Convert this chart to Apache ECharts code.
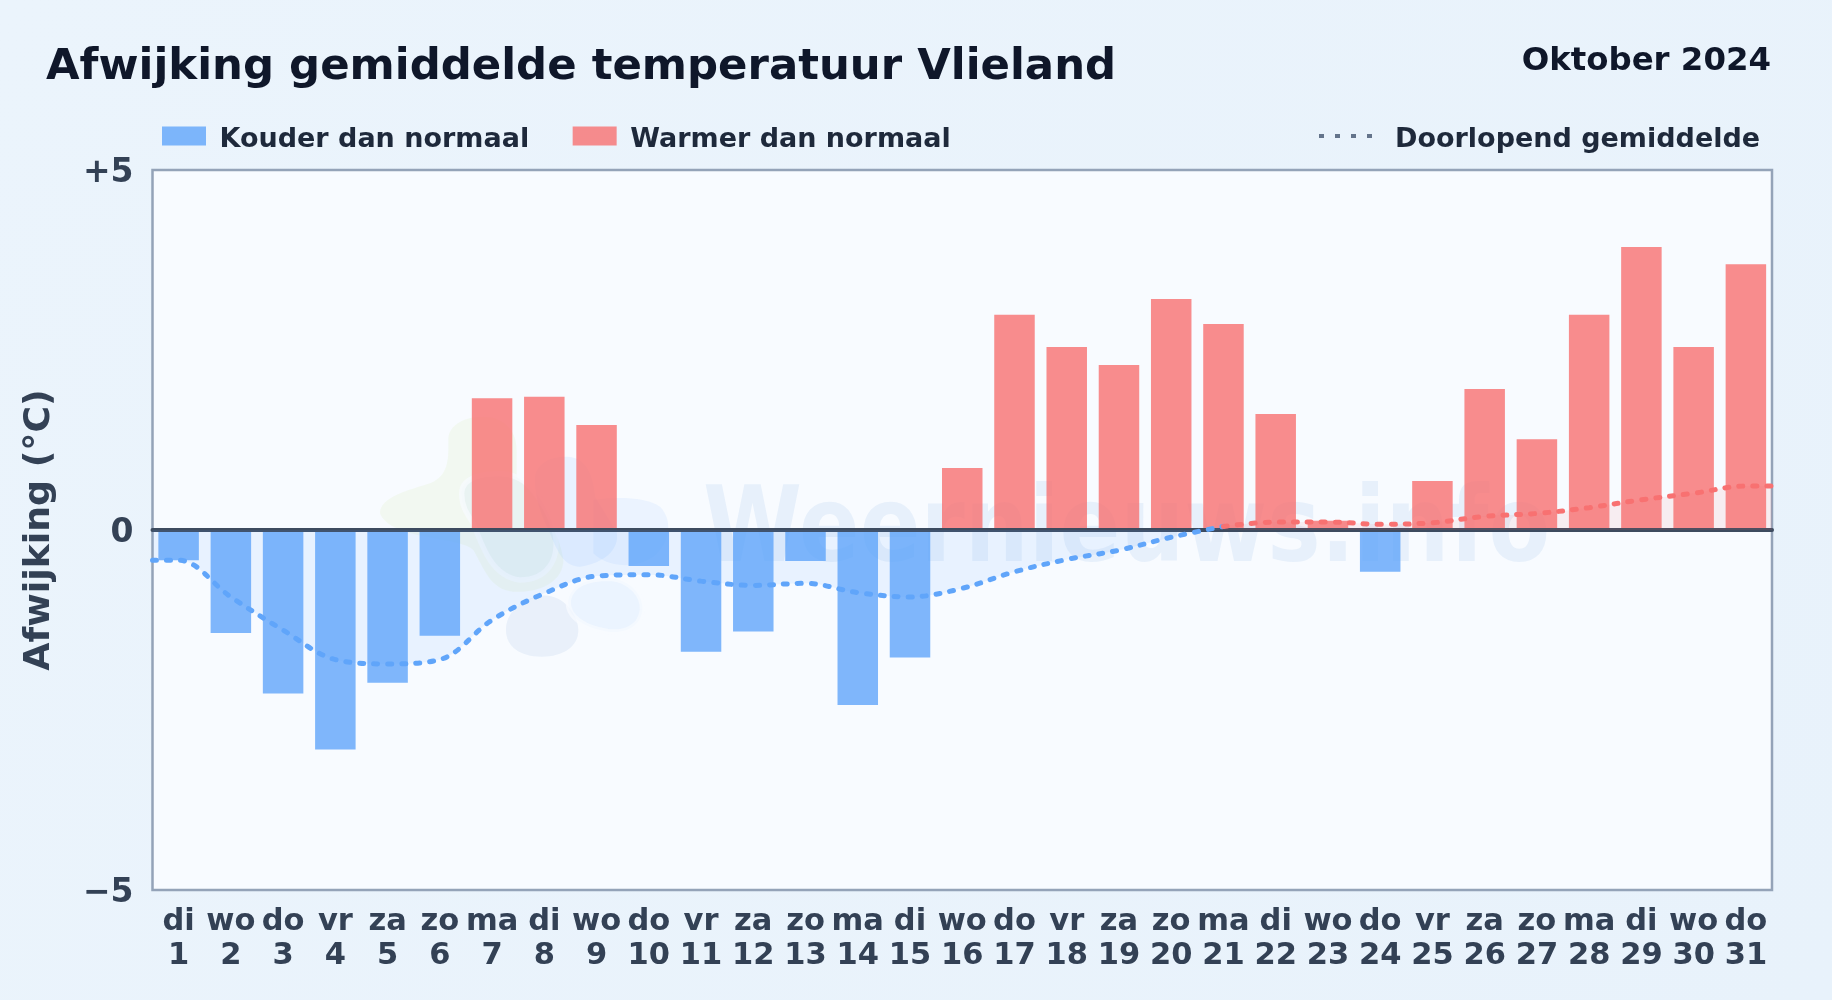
<!DOCTYPE html>
<html><head><meta charset="utf-8">
<style>html,body{margin:0;padding:0;background:#e9f3fc}#c{width:1832px;height:1000px}</style>
<script src="https://cdn.jsdelivr.net/npm/echarts@6/dist/echarts.min.js"></script>
</head><body><div id="c"></div>
<script>
const weekdays = ['di','wo','do','vr','za','zo','ma','di','wo','do','vr','za','zo','ma','di','wo','do','vr','za','zo','ma','di','wo','do','vr','za','zo','ma','di','wo','do'];
const dayNumbers = [1,2,3,4,5,6,7,8,9,10,11,12,13,14,15,16,17,18,19,20,21,22,23,24,25,26,27,28,29,30,31];
const deviations = [-0.42,-1.43,-2.27,-3.05,-2.12,-1.47,1.83,1.85,1.46,-0.50,-1.69,-1.41,-0.43,-2.43,-1.77,0.86,2.99,2.54,2.29,3.21,2.86,1.61,0.13,-0.58,0.68,1.96,1.26,2.99,3.93,2.54,3.69];
const runningMean = [-0.42,-0.93,-1.39,-1.80,-1.86,-1.80,-1.25,-0.88,-0.64,-0.62,-0.71,-0.77,-0.74,-0.87,-0.93,-0.81,-0.58,-0.41,-0.28,-0.10,0.05,0.11,0.11,0.08,0.10,0.19,0.23,0.31,0.42,0.51,0.61];
const meanAtLeftEdge = -0.42;
const meanAtRightEdge = 0.61;
const yTicks = {min:-5, max:5, step:5};

const FONT = '"DejaVu Sans"';
const categories = weekdays.map((w,i)=> w + '\n' + dayNumbers[i]);
const cold = deviations.map(v => v < 0 ? v : null);
const warm = deviations.map(v => v >= 0 ? v : null);
const meanPts = dayNumbers.map((d,i)=>[d, runningMean[i]]);
const meanCold = [[0.5, meanAtLeftEdge]].concat(meanPts.slice(0,21));
const meanWarm = meanPts.slice(20).concat([[31.5, meanAtRightEdge]]);

const halo = 'rgba(248,251,255,0.7)';
const blobs = [
 ['M60,340 C60,290 150,270 210,250 C270,225 265,170 265,120 C265,70 320,50 370,50 C430,50 470,90 470,150 L470,230 C540,300 600,400 610,480 C610,550 530,580 460,575 C390,570 370,500 340,450 C300,410 90,420 60,340 Z','rgba(214,236,170,0.17)',null],
 ['M305,280 C305,230 370,220 430,222 C500,225 560,300 585,400 C600,480 560,540 480,540 C400,530 370,450 340,370 C320,340 305,320 305,280 Z','rgba(147,197,253,0.09)',halo],
 ['M525,240 C525,190 570,170 620,170 C680,170 700,230 705,290 L770,395 C780,450 730,490 660,500 C610,500 590,450 570,400 C540,340 525,290 525,240 Z','rgba(147,197,253,0.15)',null],
 ['M700,300 C760,290 860,290 900,320 C940,360 930,430 880,470 C820,510 740,500 700,460 Z','rgba(147,197,253,0.13)',null],
 ['M438,690 C438,640 480,600 530,590 C600,570 655,640 655,690 C655,740 610,770 545,770 C480,770 438,740 438,690 Z','rgba(148,184,224,0.15)',null],
 ['M625,600 C635,550 690,535 750,535 C815,540 850,590 847,630 C840,685 790,700 745,695 C680,685 620,655 625,600 Z','rgba(147,197,253,0.12)',halo]
];
blobs.forEach((b,i)=> echarts.graphic.registerShape('blob'+i, echarts.graphic.extendPath(b[0], {})));

const legendRich = pad => ({fontFamily:FONT,fontWeight:'bold',fontSize:27,color:'#1e293b',padding:[0,0,0,pad],
  rich:{t:{fontFamily:FONT,fontWeight:'bold',fontSize:27,color:'#1e293b',padding:[7.3,0,0,0]}}});

const chart = echarts.init(document.getElementById('c'), null, {renderer:'canvas'});
chart.setOption({
  animation:false,
  backgroundColor:{type:'linear',x:0,y:0,x2:1,y2:1,colorStops:[{offset:0,color:'#ebf4fc'},{offset:1,color:'#e8f2fb'}]},
  textStyle:{fontFamily:FONT},
  title:[
    {text:'Afwijking gemiddelde temperatuur Vlieland',left:46,top:46.5,padding:0,textStyle:{fontFamily:FONT,fontWeight:'bold',fontSize:43.4,color:'#0f172a'}},
    {text:'Oktober 2024',right:61,top:46,padding:0,textStyle:{fontFamily:FONT,fontWeight:'bold',fontSize:32.4,color:'#0f172a'}}
  ],
  legend:[
    {left:162,top:126.2,padding:0,icon:'rect',itemWidth:44,itemHeight:19,itemGap:43.5,data:['Kouder dan normaal','Warmer dan normaal'],
     formatter:n=>'{t|'+n+'}',textStyle:legendRich(8.5)},
    {left:1317,top:126.2,padding:0,itemWidth:56,itemHeight:19,data:['Doorlopend gemiddelde'],
     itemStyle:{opacity:0},lineStyle:{color:'#64748b',width:4,type:[5,11],cap:'butt',opacity:1},
     formatter:n=>'{t|'+n+'}',textStyle:legendRich(15)}
  ],
  grid:{left:152.5,right:60,top:170,bottom:110,show:true,backgroundColor:'#f8fbff',borderColor:'#94a3b8',borderWidth:2.5},
  xAxis:[
    {type:'category',data:categories,position:'bottom',
     axisLine:{show:false,onZero:false},axisTick:{show:false},splitLine:{show:false},
     axisLabel:{interval:0,margin:15,fontFamily:FONT,fontWeight:'bold',fontSize:30.5,lineHeight:34,color:'#334155',hideOverlap:false}},
    {type:'value',min:0.5,max:31.5,z:5,
     axisLine:{show:true,onZero:true,lineStyle:{color:'#3d4b5f',width:4}},axisTick:{show:false},axisLabel:{show:false},splitLine:{show:false}}
  ],
  yAxis:{type:'value',min:yTicks.min,max:yTicks.max,interval:yTicks.step,
    name:'Afwijking (°C)',nameLocation:'middle',nameRotate:90,nameGap:95,
    nameTextStyle:{fontFamily:FONT,fontWeight:'bold',fontSize:36.3,color:'#334155'},
    axisLine:{show:false},axisTick:{show:false},splitLine:{show:false},
    axisLabel:{margin:19,
      rich:{t:{fontFamily:FONT,fontWeight:'bold',fontSize:33,color:'#334155',padding:[7.5,0,0,0]}},
      formatter:v=> '{t|' + (v>0 ? '+'+v : v<0 ? '\u2212'+Math.abs(v) : '0') + '}'}},
  series:[
    {name:'Kouder dan normaal',type:'bar',data:cold,barWidth:40.5,barGap:'-100%',z:2,itemStyle:{color:'rgba(96,165,250,0.8)'}},
    {name:'Warmer dan normaal',type:'bar',data:warm,barWidth:40.5,barGap:'-100%',z:2,itemStyle:{color:'rgba(248,113,113,0.8)'}},
    {name:'Doorlopend gemiddelde',type:'line',xAxisIndex:1,data:[],symbol:'none',itemStyle:{color:'#64748b'},
     lineStyle:{color:'#64748b',width:4,type:[5,11]}},
    {name:'meanCold',type:'line',xAxisIndex:1,data:meanCold,symbol:'none',smooth:0.35,z:6,
     lineStyle:{color:'#60a5fa',width:5,type:[4,10],cap:'round'},
     areaStyle:{color:'rgba(96,165,250,0.14)'}},
    {name:'meanWarm',type:'line',xAxisIndex:1,data:meanWarm,symbol:'none',smooth:0.35,z:6,
     lineStyle:{color:'#f87171',width:5,type:[4,10],cap:'round'},
     areaStyle:{color:'rgba(248,113,113,0.14)'}}
  ],
  graphic:[
    {type:'group',z:1,silent:true,children:blobs.map((b,i)=>({type:'blob'+i,x:360,y:400,scaleX:1/3,scaleY:1/3,z:1,silent:true,
        shape:{},style:b[2] ? {fill:b[1],stroke:b[2],lineWidth:16} : {fill:b[1]}}))},
    {type:'text',z:1,silent:true,x:703,y:481,scaleX:0.855,style:{text:'Weernieuws.info',fontFamily:FONT,fontWeight:'bold',fontSize:105,fill:'rgba(100,155,215,0.11)',textVerticalAlign:'top'}}
  ]
});
</script></body></html>
